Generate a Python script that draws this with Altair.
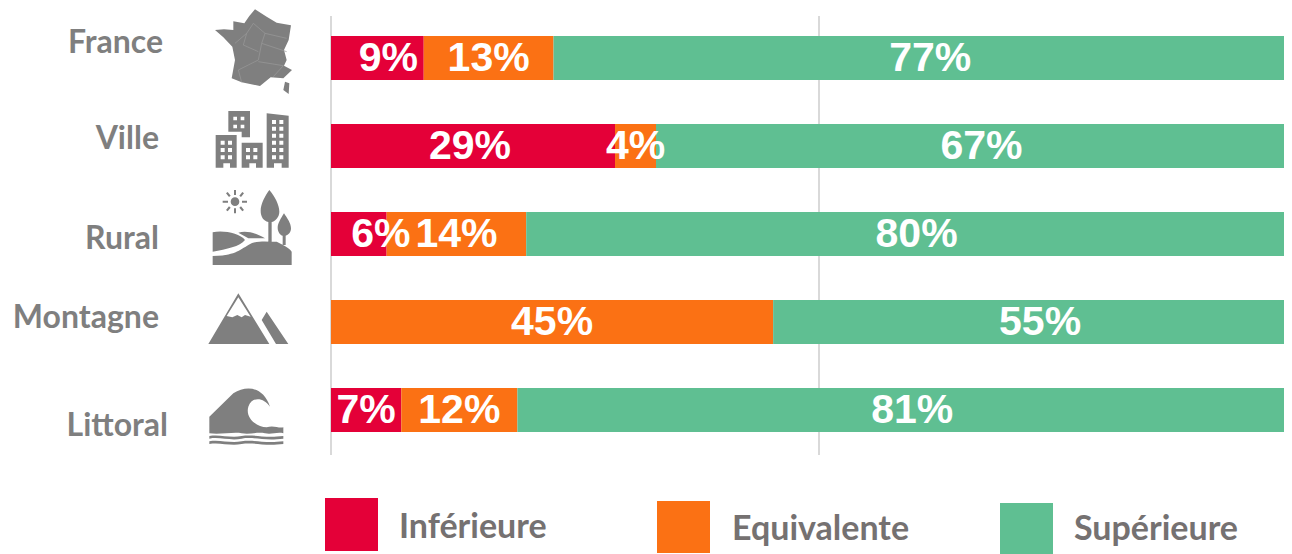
import re
import altair as alt
import pandas as pd

categories = ["France", "Ville", "Rural", "Montagne", "Littoral"]
series = ["Inférieure", "Equivalente", "Supérieure"]
colors = ["#E40038", "#FB7114", "#5FBF92"]
inferieure = [9.5, 29.1, 5.7, 0.0, 7.2]
equivalente = [13.3, 4.2, 14.3, 45.3, 11.9]
superieure = [77.2, 66.7, 80.0, 54.7, 80.9]
labels_inf = ["9%", "29%", "6%", "", "7%"]
labels_equ = ["13%", "4%", "14%", "45%", "12%"]
labels_sup = ["77%", "67%", "80%", "55%", "81%"]
grid_values = [0, 50]

W, H = 1276, 546
GRAY = "#7F7F7F"
LEGEND_GRAY = "#757171"
ox, oy = 8, 8  # page margin


def px(v):
    return alt.value(v - ox)


def py(v):
    return alt.value(v - oy)


rows = []
for i, c in enumerate(categories):
    start = 0.0
    for s, vals, labs in zip(series, (inferieure, equivalente, superieure), (labels_inf, labels_equ, labels_sup)):
        rows.append({"cat": c, "series": s, "start": start, "end": start + vals[i], "label": labs[i]})
        start += vals[i]
df = pd.DataFrame(rows)
df["mid"] = (df["start"] + df["end"]) / 2

xscale = alt.Scale(domain=[0, 100], range=[323, 1299])
yscale = alt.Scale(domain=categories, range=[6, 446], paddingInner=0.5, paddingOuter=0.25)
cscale = alt.Scale(domain=series, range=colors)

grid = alt.Chart(pd.DataFrame({"g": grid_values})).mark_rule(color="#D9D9D9", strokeWidth=2).encode(
    x=alt.X("g:Q", scale=xscale, axis=None), y=py(16), y2=py(455)
)

bars = alt.Chart(df).transform_filter("datum.end > datum.start").mark_bar(clip=True, cornerRadius=0).encode(
    x=alt.X("start:Q", scale=xscale, axis=None),
    x2="end:Q",
    y=alt.Y("cat:N", scale=yscale, axis=None, sort=categories),
    color=alt.Color("series:N", scale=cscale, legend=None),
)


def value_text(flt, dx=0):
    return alt.Chart(df).transform_filter(flt).mark_text(
        font="Liberation Sans", fontWeight="bold", fontSize=41, color="white", baseline="middle", align="center", dx=dx, dy=1
    ).encode(
        x=alt.X("mid:Q", scale=xscale, axis=None),
        y=alt.Y("cat:N", scale=yscale, axis=None, sort=categories),
        text="label:N",
    )


values = (
    value_text("datum.label != '' && datum.label != '9%' && datum.label != '6%' && datum.label != '29%'")
    + value_text("datum.label == '9%'", 11)
    + value_text("datum.label == '6%'", 22)
    + value_text("datum.label == '29%'", -3)
)

cat_pos = [(163, 43), (159, 139), (159, 239), (159, 318), (168, 426)]
one = pd.DataFrame({"a": [0]})


def text_at(txt, x, y, color, size, align="right"):
    return alt.Chart(one).mark_text(
        text=txt, font="Lato", fontWeight="bold", fontSize=size, color=color, align=align, baseline="middle"
    ).encode(x=px(x), y=py(y))


cat_labels = [text_at(c, x, y, GRAY, 32) for c, (x, y) in zip(categories, cat_pos)]

legend_boxes = [(325, 378, 498, 551), (657, 710, 501, 553), (1000, 1053, 503, 554)]
legend_text = [(399, 528), (732, 530), (1074, 530)]
legend = []
for s, col, (x0, x1, y0, y1), (tx, ty) in zip(series, colors, legend_boxes, legend_text):
    legend.append(alt.Chart(one).mark_rect(color=col).encode(x=px(x0), x2=px(x1), y=py(y0), y2=py(y1)))
    legend.append(text_at(s, tx, ty, LEGEND_GRAY, 34, "left"))

# ---- icons: glyph outlines in 3x crop coordinates, converted to Vega's unit-square symbols
HALF = 50.0


def glyph(path, base, cx, cy):
    def conv(m):
        x = float(m.group(1)) / 3
        y = base + float(m.group(2)) / 3
        return f"{(x - cx) / HALF:.4f},{(y - cy) / HALF:.4f}"
    return re.sub(r"(-?[\d.]+),(-?[\d.]+)", conv, path)


def sym(path, base, cx, cy, fill=GRAY, stroke=None, sw=1):
    kw = dict(shape=glyph(path, base, cx, cy), size=(2 * HALF) ** 2, opacity=1)
    if stroke:
        mk = alt.MarkDef(type="point", filled=False, color=stroke, strokeWidth=sw, **kw)
    else:
        mk = alt.MarkDef(type="point", filled=True, color=fill, strokeWidth=0, **kw)
    return alt.Chart(one, mark=mk).encode(x=px(cx), y=py(cy))


def sq(x, y, s):
    return f"M{x},{y} L{x+s},{y} L{x+s},{y+s} L{x},{y+s} Z "


icons = []
# France
france = ("M645,90 L672,88 L700,90 L700,64 L733,70 L748,48 L765,28 L800,50 L830,68 L873,76 L866,120 L852,150 "
          "L860,180 L852,197 L876,210 L850,235 L812,232 L780,258 L725,247 L695,235 L705,180 L697,140 L670,112 Z "
          "M855,245 L868,250 L866,282 L850,270 Z")
france_lines = ("M705,130 L740,100 L760,70 M760,70 L795,100 L785,130 L775,180 L715,210 L725,247 "
                "M740,100 L730,135 L775,155 M795,100 L860,115 M785,130 L860,155 M775,185 L850,197 L820,230")
icons.append(sym(france, 0, 250, 50))
icons.append(sym(france_lines, 0, 250, 50, stroke="#9A9A9A", sw=0.7))
# Ville
ville = ("M685,333 L750,333 L750,412 L725,412 L725,395 L685,395 Z "
         "M647,405 L710,405 L710,503 L690,503 L690,490 L670,490 L670,503 L647,503 Z "
         "M725,428 L788,428 L788,503 L768,503 L768,490 L748,490 L748,503 L725,503 Z "
         "M800,340 L866,347 L866,503 L845,503 L845,490 L822,490 L822,503 L800,503 Z")
windows = ""
for yy in (350, 374):
    for xx in (700, 722):
        windows += sq(xx, yy, 11)
for yy in (422, 444, 466):
    for xx in (662, 684):
        windows += sq(xx, yy, 12)
for yy in (444, 466):
    for xx in (738, 760):
        windows += sq(xx, yy, 12)
for yy in (360, 380, 401, 422, 444, 466):
    for xx in (816, 838):
        windows += sq(xx, yy, 12)
icons.append(sym(ville, 0, 250, 140))
icons.append(sym(windows, 0, 250, 140, fill="white"))
# Rural
rural = ("M808,30 C825,50 838,75 838,95 C838,112 825,124 815,126 L815,185 L805,185 L805,126 C790,122 782,110 782,92 "
         "C782,72 795,48 808,30 Z "
         "M852,100 C862,115 873,130 873,145 C873,157 865,165 857,167 L857,195 L848,195 L848,167 C840,165 833,155 833,143 "
         "C833,130 843,115 852,100 Z "
         "M638,157 C670,150 720,160 735,180 C720,200 680,207 638,215 Z "
         "M715,158 C740,150 770,160 795,175 L745,175 Z "
         "M638,228 C700,228 720,210 745,195 C770,180 800,185 830,185 C850,195 870,205 875,215 L875,255 L638,255 Z "
         "M692,65 C692,58 698,52 705,52 C712,52 718,58 718,65 C718,72 712,78 705,78 C698,78 692,72 692,65 Z "
         "M702,30 L708,30 L708,45 L702,45 Z M702,85 L708,85 L708,100 L702,100 Z "
         "M668,62 L684,62 L684,68 L668,68 Z M726,62 L741,62 L741,68 L726,68 Z "
         "M678,40 L683,36 L692,47 L687,51 Z M718,47 L727,36 L732,40 L723,51 Z "
         "M687,79 L692,83 L683,94 L678,90 Z M723,79 L732,90 L727,94 L718,83 Z")
icons.append(sym(rural, 180, 250, 228))
# Montagne
mountain = "M715,340 L808,492 L625,492 Z M800,395 L865,492 L828,492 L785,420 Z"
snow = "M715,352 L752,410 L735,405 L725,412 L712,405 L697,412 L680,408 Z"
icons.append(sym(mountain, 180, 250, 320))
icons.append(sym(snow, 180, 250, 320, fill="white"))
# Littoral
wave = ("M628,710 L700,640 C740,615 790,620 810,680 C790,650 755,650 745,680 C735,715 770,740 800,742 "
        "C820,735 835,745 850,742 L850,760 C830,755 815,765 795,760 C770,755 750,765 725,760 C700,755 660,765 628,760 Z "
        "M628,768 C660,762 690,775 725,768 C760,762 790,775 850,768 L850,776 C790,783 760,770 725,776 C690,783 660,770 628,776 Z "
        "M628,784 C660,778 690,791 725,784 C760,778 790,791 850,784 L850,792 C790,799 760,786 725,792 C690,799 660,786 628,792 Z")
icons.append(sym(wave, 180, 250, 415))

chart = alt.layer(
    grid, bars, values, *cat_labels, *icons, *legend
).properties(width=W, height=H, padding=0, autosize=alt.AutoSizeParams(type="none")).configure_view(stroke=None)

chart.save("out.html", embed_options={"renderer": "svg", "actions": False})
